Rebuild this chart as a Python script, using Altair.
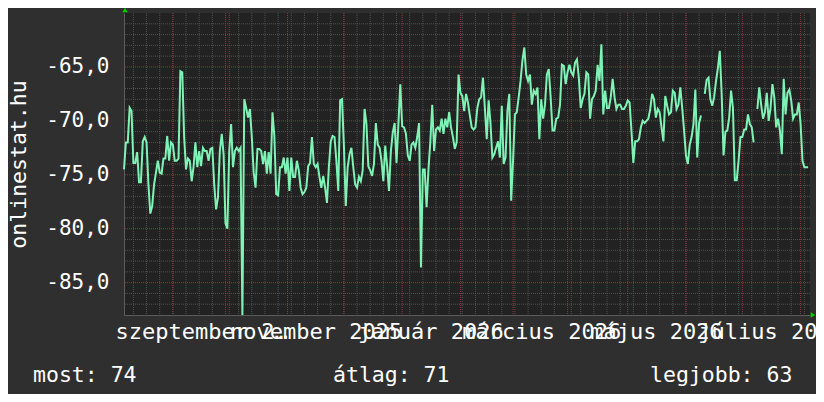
import altair as alt
import pandas as pd

# ---------------- data ----------------
START = "2025-08-06"
END = "2026-08-06"

values = [
    -74.5, -72.0, -72.0, -68.8, -69.1, -73.9, -73.9, -72.9, -75.7, -75.7,
    -71.9, -71.5, -72.0, -75.9, -78.6, -77.9, -75.9, -74.8, -73.7, -74.8,
    -74.9, -73.5, -73.5, -71.4, -73.7, -72.0, -72.2, -73.7, -73.7, -73.5,
    -65.4, -65.5, -71.5, -74.5, -73.5, -73.7, -75.6, -74.3, -72.0, -74.3,
    -72.8, -74.2, -72.5, -72.8, -72.8, -73.7, -72.6, -72.5, -75.9, -78.2,
    -77.1, -72.8, -71.2, -73.1, -79.5, -80.0, -72.8, -70.3, -74.3, -72.8,
    -72.5, -72.8, -72.5, -88.0, -68.0, -68.8, -69.7, -68.9, -71.5, -74.8,
    -76.2, -72.6, -72.6, -72.8, -74.0, -72.8, -74.9, -72.9, -74.9, -69.2,
    -71.4, -76.8, -76.9, -74.3, -74.3, -73.4, -74.9, -73.4, -76.5, -73.4,
    -75.2,
    -75.2, -73.7, -74.6, -76.2, -76.8, -76.6, -76.2, -74.2, -73.9, -71.5,
    -74.0, -74.3, -74.0, -75.2, -76.2, -75.1, -76.2, -77.6, -74.3, -71.9,
    -71.4, -71.5, -73.7, -76.5, -68.1, -68.0, -72.3, -77.9, -74.3, -73.1,
    -72.5, -74.3, -75.9, -76.2, -75.2, -75.6, -74.6, -68.9, -70.3, -74.2,
    -74.6, -75.1, -74.0, -70.2, -72.2, -72.5, -73.7, -75.6, -72.3, -74.2,
    -76.5, -72.8, -71.1, -70.2, -73.9, -70.3, -66.6, -70.5, -70.6, -71.2,
    -73.2, -73.7, -72.2, -72.0, -72.5, -71.5, -70.2, -83.6, -74.5, -74.5,
    -78.0, -74.5, -71.9, -68.5, -72.8, -70.8, -70.6, -70.9, -69.8, -71.2,
    -69.8, -70.6, -69.2, -70.6, -71.5, -72.6, -72.0, -65.7, -67.4, -67.7,
    -69.1, -67.5, -68.3,
    -69.5, -70.6, -70.8, -70.6, -68.8, -68.0, -67.8, -66.0, -68.8, -71.7,
    -68.1, -70.2, -73.4, -73.1, -72.5, -71.9, -73.4, -68.6, -74.0, -73.4,
    -69.1, -67.5, -77.4, -73.7, -69.4, -69.2, -67.8, -66.3, -64.4, -63.2,
    -65.7, -66.3, -65.7, -68.5, -67.2, -67.5, -66.9, -71.7, -68.0, -69.8,
    -68.5, -65.7, -65.2, -67.8, -70.9, -70.9, -69.8, -69.7, -68.5, -64.8,
    -64.9, -66.6, -65.5, -64.8, -65.5, -65.8, -64.6, -64.3, -66.0, -68.8,
    -68.0, -67.5, -65.5, -65.7, -69.8, -68.0, -67.7, -67.2, -64.8, -66.3,
    -62.9, -69.4, -67.2, -68.8, -68.8, -67.8, -66.1, -67.8, -68.9, -68.5,
    -68.5, -68.9, -68.9, -68.6, -68.1, -68.3, -70.9, -73.9, -71.9, -71.9,
    -71.7, -70.6,
    -70.0, -70.2, -70.0, -69.8, -68.9, -67.5, -68.0, -69.7, -68.9, -69.2,
    -70.6, -71.9, -67.7, -68.6, -69.4, -69.2, -67.2, -67.4, -68.9, -68.5,
    -66.9, -68.8, -70.9, -73.2, -74.0, -72.2, -71.5, -70.3, -67.1, -73.4,
    -70.2, -69.5, None, -67.5, -66.2, -66.0, -68.0, -68.6, -67.8, -66.3,
    -65.1, -63.5, -67.5, -73.2, -71.0, -70.9, -69.7, -67.2, -68.8, -75.5,
    -75.5, -73.7, -71.5, -71.5, -70.8, -70.8, -69.4, -70.3, -70.6, -72.0,
    None, -68.9, -66.9, -68.5, -69.8, -69.2, -67.4, -70.0, -68.8, -66.6,
    -67.8, -70.6, -69.8, -70.9, -73.1, -66.1, -69.4, -67.4, -67.1, -68.1,
    -69.8, -69.4, -69.4, -68.3, -70.3, -73.7, -74.3, -74.3, -74.3,
]

HU_MONTHS = ["január", "február", "március", "április", "május", "június",
             "július", "augusztus", "szeptember", "október", "november", "december"]
LABEL_DATES = ["2025-09-16", "2025-11-16", "2026-01-16",
               "2026-03-16", "2026-05-16", "2026-07-16"]
Y_MAJOR = [-85, -80, -75, -70, -65]
Y_MINOR = [v for v in range(-87, -60) if v % 5 != 0]
Y_DOMAIN = [-88, -60]
AXIS_TITLE = "onlinestat.hu"
LEGEND = ["most: 74", "átlag: 71", "legjobb: 63"]

# ---------------- styling ----------------
FONT = "DejaVu Sans Mono"
BG = "#2f2f2f"
PLOT_BG = "#222222"
LINE = "#7ff2b6"
GRID_MINOR = "#505050"
GRID_MAJOR = "#8a3a3a"
AXIS_COL = "#5c5c5c"
ARROW = "#00d000"


def iso(d):
    return pd.Timestamp(d).strftime("%Y-%m-%dT00:00:00Z")


def ms(d):
    return int(pd.Timestamp(d, tz="UTC").timestamp() * 1000)


dates = pd.date_range(START, periods=len(values), freq="D")
df = pd.DataFrame({"date": [iso(d) for d in dates], "value": values})

mondays = pd.date_range("2025-08-11", "2026-08-05", freq="7D")
month_starts = pd.date_range("2025-09-01", "2026-08-01", freq="MS")

xscale = alt.Scale(type="utc", domain=[ms(START), ms(END)], nice=False)
yscale = alt.Scale(domain=Y_DOMAIN, nice=False, zero=False)

month_arr = "[" + ",".join("'" + m + "'" for m in HU_MONTHS) + "]"
x_label_expr = month_arr + "[utcmonth(datum.value)] + ' ' + utcyear(datum.value)"
y_label_expr = "'-' + replace(format(abs(datum.value), '.1f'), '.', ',')"

wk = alt.Chart(pd.DataFrame({"date": [iso(d) for d in mondays]})).mark_rule(
    color=GRID_MINOR, strokeDash=[1, 1], strokeWidth=1
).encode(x=alt.X("date:T", scale=xscale, axis=None))

mo = alt.Chart(pd.DataFrame({"date": [iso(d) for d in month_starts]})).mark_rule(
    color=GRID_MAJOR, strokeDash=[1, 1], strokeWidth=1
).encode(x=alt.X("date:T", scale=xscale, axis=None))

ymin = alt.Chart(pd.DataFrame({"value": Y_MINOR})).mark_rule(
    color=GRID_MINOR, strokeDash=[1, 1], strokeWidth=1
).encode(y=alt.Y("value:Q", scale=yscale, axis=None))

ymaj = alt.Chart(pd.DataFrame({"value": Y_MAJOR})).mark_rule(
    color=GRID_MAJOR, strokeDash=[1, 1], strokeWidth=1
).encode(y=alt.Y("value:Q", scale=yscale, axis=None))

line = alt.Chart(df).mark_line(color=LINE, strokeWidth=2).encode(
    x=alt.X(
        "date:T", scale=xscale,
        axis=alt.Axis(
            orient="bottom",
            values=[ms(d) for d in LABEL_DATES], labelExpr=x_label_expr,
            labelOverlap=False, labelFlush=False, grid=False, ticks=False,
            domain=True, domainColor=AXIS_COL, domainWidth=1,
            labelFont=FONT, labelFontSize=22, labelColor="white",
            labelPadding=6, title=None,
        ),
    ),
    y=alt.Y(
        "value:Q", scale=yscale,
        axis=alt.Axis(
            orient="left",
            values=Y_MAJOR, labelExpr=y_label_expr, grid=False, ticks=False,
            domain=True, domainColor=AXIS_COL, domainWidth=1,
            labelFont=FONT, labelFontSize=21, labelColor="white",
            labelPadding=15,
            title=AXIS_TITLE, titleFont=FONT, titleFontSize=21.5,
            titleColor="white", titleFontWeight="normal", titleAngle=270,
            titleX=-99, titleY=151, titleAlign="center",
            titleBaseline="alphabetic",
        ),
    ),
)

up = alt.Chart(pd.DataFrame({"date": [iso(START)], "value": [Y_DOMAIN[1]]})).mark_point(
    shape="triangle-up", filled=True, color=ARROW, size=28, opacity=1,
    xOffset=1, yOffset=-3,
).encode(x=alt.X("date:T", scale=xscale, axis=None),
         y=alt.Y("value:Q", scale=yscale, axis=None))

right = alt.Chart(pd.DataFrame({"date": [iso(END)], "value": [Y_DOMAIN[0]]})).mark_point(
    shape="triangle-right", filled=True, color=ARROW, size=28, opacity=1,
    xOffset=3,
).encode(x=alt.X("date:T", scale=xscale, axis=None),
         y=alt.Y("value:Q", scale=yscale, axis=None))

legend_x = [-91, 209, 526]
legend_layers = [
    alt.Chart(pd.DataFrame({"t": [txt]})).mark_text(
        align="left", baseline="alphabetic", font=FONT, fontSize=21.5, color="white"
    ).encode(x=alt.value(lx), y=alt.value(369), text="t:N")
    for txt, lx in zip(LEGEND, legend_x)
]

chart = alt.layer(wk, ymin, mo, ymaj, line, up, right, *legend_layers).resolve_axis(
    x="independent", y="independent"
).properties(
    width=686, height=302,
    padding={"left": 116, "top": 5, "right": 6, "bottom": 79},
    autosize="none",
    background=BG,
).configure_view(fill=PLOT_BG, strokeWidth=0)

chart.save("out.html", embed_options={"renderer": "svg", "actions": False})
